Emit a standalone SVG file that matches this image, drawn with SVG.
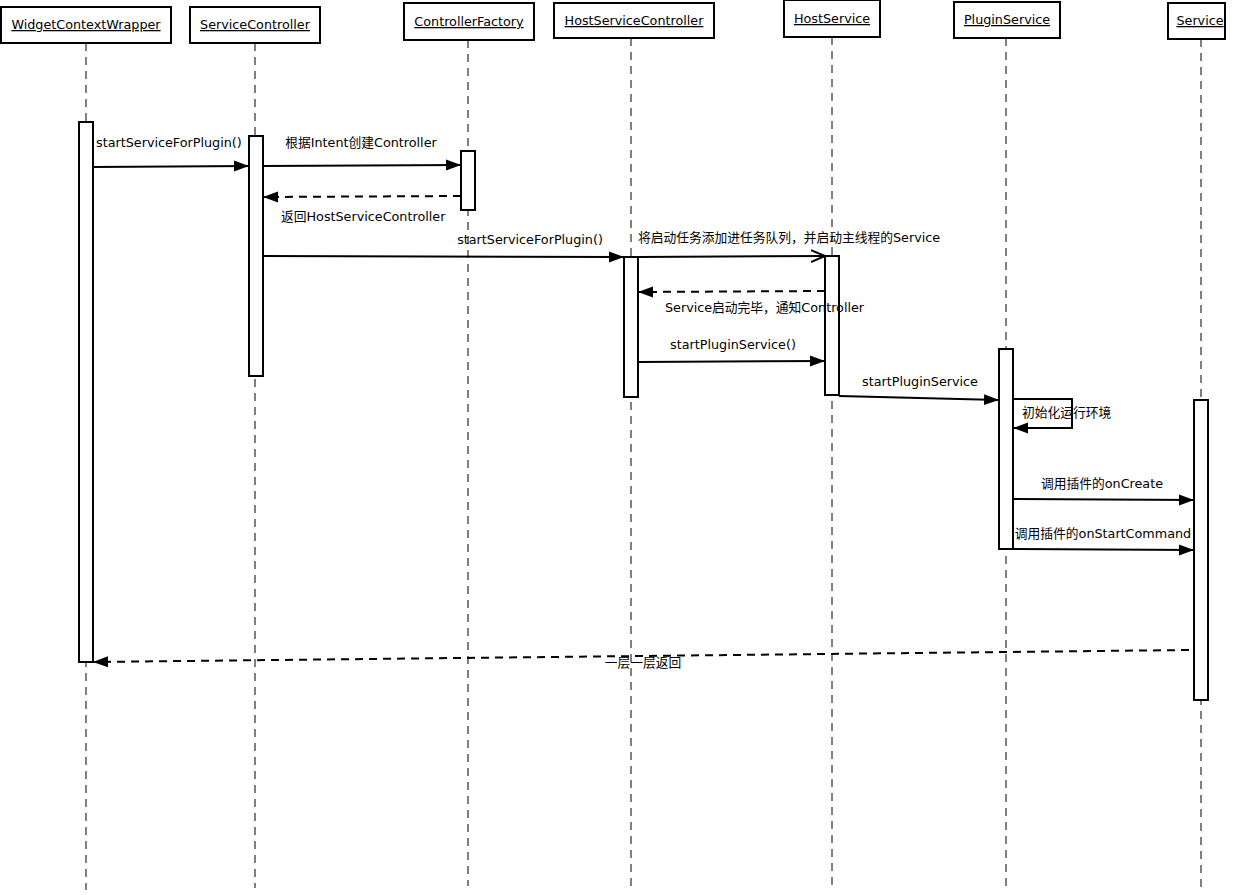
<svg xmlns="http://www.w3.org/2000/svg" width="1237" height="895" viewBox="0 0 1237 895">
<style>
text{font-family:"DejaVu Sans","Noto Sans CJK SC",sans-serif;font-size:12.75px;fill:#000}
.hdr rect{fill:#fff;stroke:#000;stroke-width:2}
.hdr text{text-anchor:middle;text-decoration:underline}
.life{stroke:#000;stroke-width:1;stroke-dasharray:8 6;fill:none}
.act{fill:#fff;stroke:#000;stroke-width:2}
.msg{stroke:#000;stroke-width:2;fill:none;marker-end:url(#fa)}
.ret{stroke:#000;stroke-width:2;fill:none;stroke-dasharray:8 6;marker-end:url(#fa)}
.asy{stroke:#000;stroke-width:2;fill:none;marker-end:url(#oa)}
.c{text-anchor:middle}
</style>
<defs>
<marker id="fa" markerUnits="userSpaceOnUse" markerWidth="16" markerHeight="12" refX="15" refY="6" orient="auto"><path d="M0,0.5 L15,6 L0,11.5 z" fill="#000"/></marker>
<marker id="oa" markerUnits="userSpaceOnUse" markerWidth="16" markerHeight="14" refX="14" refY="7" orient="auto"><path d="M0,1 L14,7 L0,13" fill="none" stroke="#000" stroke-width="2"/></marker>
</defs>
<rect width="1237" height="895" fill="#fff"/>
<g id="lifelines">
<line class="life" x1="86" y1="43" x2="86" y2="890"/>
<line class="life" x1="255" y1="43" x2="255" y2="888"/>
<line class="life" x1="468" y1="40" x2="468" y2="886"/>
<line class="life" x1="631" y1="38" x2="631" y2="886"/>
<line class="life" x1="832" y1="37" x2="832" y2="886"/>
<line class="life" x1="1006" y1="38" x2="1006" y2="888"/>
<line class="life" x1="1201" y1="39" x2="1201" y2="893"/>
</g>
<g id="WidgetContextWrapper" class="hdr"><rect x="1" y="7" width="170" height="36"/><text x="86" y="29">WidgetContextWrapper</text><rect class="act" x="79" y="122" width="14" height="540"/></g>
<g id="ServiceController" class="hdr"><rect x="190" y="7" width="130" height="36"/><text x="255" y="29">ServiceController</text><rect class="act" x="249" y="136" width="14" height="240"/></g>
<g id="ControllerFactory" class="hdr"><rect x="404" y="3" width="130" height="37"/><text x="469" y="26">ControllerFactory</text><rect class="act" x="461" y="151" width="14" height="59"/></g>
<g id="HostServiceController" class="hdr"><rect x="554" y="3" width="160" height="35"/><text x="634" y="25">HostServiceController</text><rect class="act" x="624" y="257" width="14" height="140"/></g>
<g id="HostService" class="hdr"><rect x="784" y="0" width="96" height="37"/><text x="832" y="23">HostService</text><rect class="act" x="825" y="256" width="14" height="139"/></g>
<g id="PluginService" class="hdr"><rect x="954" y="2" width="106" height="36"/><text x="1007" y="24">PluginService</text><rect class="act" x="999" y="349" width="14" height="200"/></g>
<g id="Service" class="hdr"><rect x="1168" y="3" width="57" height="36"/><text x="1200" y="25">Service</text><rect class="act" x="1194" y="400" width="14" height="300"/></g>
<g id="connectors">
<line class="msg" x1="93" y1="167" x2="249" y2="166"/>
<text x="96" y="147">startServiceForPlugin()</text>
<line class="msg" x1="263" y1="166" x2="461" y2="165"/>
<text class="c" x="361" y="147">根据Intent创建Controller</text>
<line class="ret" x1="461" y1="196" x2="263" y2="197"/>
<text x="281" y="221">返回HostServiceController</text>
<line class="msg" x1="263" y1="256" x2="624" y2="257"/>
<text class="c" x="530" y="244">startServiceForPlugin()</text>
<line class="asy" x1="638" y1="257" x2="825" y2="256"/>
<text x="638" y="242">将启动任务添加进任务队列，并启动主线程的Service</text>
<line class="ret" x1="825" y1="291" x2="638" y2="292"/>
<text x="665" y="312">Service启动完毕，通知Controller</text>
<line class="msg" x1="638" y1="362" x2="825" y2="361"/>
<text class="c" x="733" y="349">startPluginService()</text>
<line class="msg" x1="839" y1="396" x2="999" y2="400"/>
<text class="c" x="920" y="386">startPluginService</text>
<polyline class="msg" points="1013,399 1072,399 1072,428 1013,428"/>
<text x="1022" y="417">初始化运行环境</text>
<line class="msg" x1="1013" y1="499" x2="1194" y2="500"/>
<text class="c" x="1102" y="488">调用插件的onCreate</text>
<line class="msg" x1="1013" y1="549" x2="1194" y2="550"/>
<text class="c" x="1103" y="538">调用插件的onStartCommand</text>
<line class="ret" x1="1189" y1="650" x2="93" y2="662"/>
<text class="c" x="643" y="667">一层一层返回</text>
</g>
</svg>
